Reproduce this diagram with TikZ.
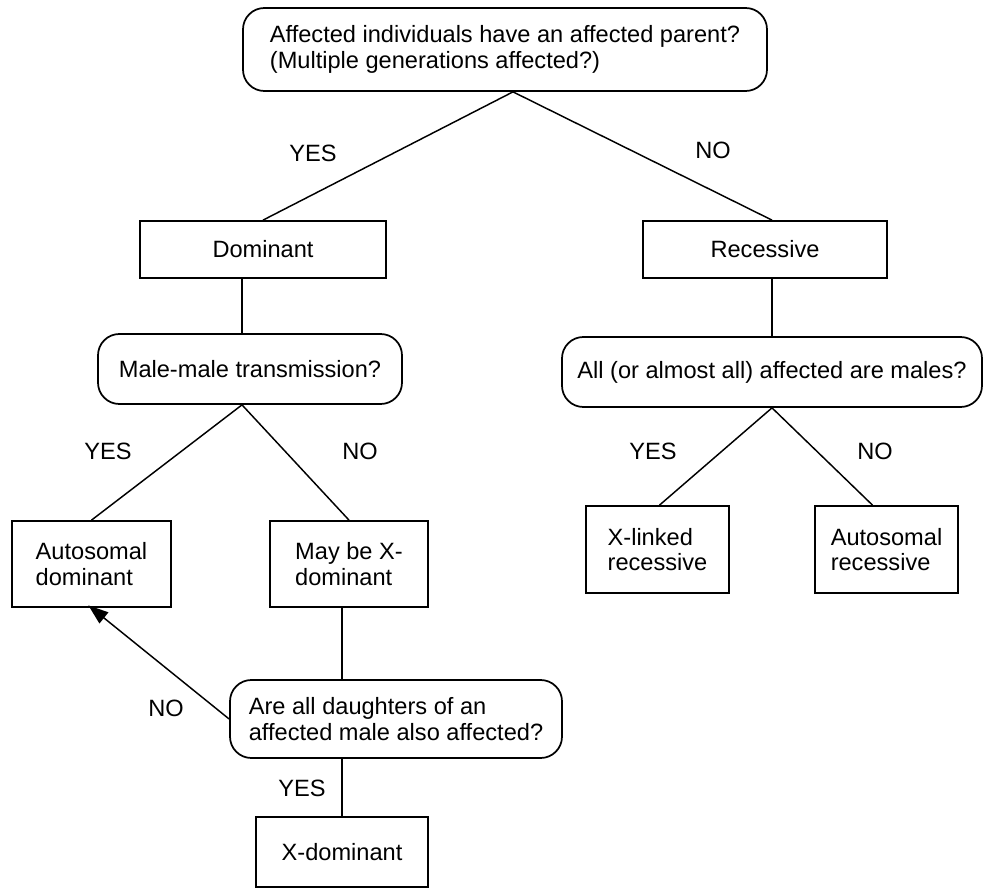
\documentclass[tikz,border=0pt]{standalone}
\usepackage{fontspec}
\setmainfont{Liberation Sans}
\usetikzlibrary{positioning, arrows.meta, calc}

\begin{document}
\begin{tikzpicture}[x=0.75pt, y=-0.75pt,
  every node/.style={font=\fontsize{17.7}{19}\selectfont},
  question/.style={draw, line width=1.3pt, rounded corners=16pt, align=left, inner sep=0pt},
  answer/.style={draw, line width=1.3pt, align=left, inner sep=0pt},
  link/.style={line width=1.1pt}]
  \useasboundingbox (0,0) rectangle (985,888);

  % Top question
  \node[question, minimum width=393pt, minimum height=62.25pt] (parent) at (505,49.5)
    {Affected individuals have an affected parent?\\(Multiple generations affected?)};
  \coordinate (parentapex) at ($(parent.south)+(8,0)$);

  % Dominant / Recessive
  \node[answer, minimum width=184.5pt, minimum height=42.75pt] (dominant) at (263,249.5) {Dominant};
  \node[answer, minimum width=183pt, minimum height=42.75pt] (recessive) at (765,249.5) {Recessive};

  % Second questions
  \node[question, minimum width=228pt, minimum height=52.5pt] (malemale) at (250,369) {Male-male transmission?};
  \node[question, minimum width=315pt, minimum height=52.5pt] (allmales) at (772,372) {All (or almost all) affected are males?};
  \coordinate (malemaleapex) at ($(malemale.south)+(-8,0)$);

  % Dominant outcomes
  \node[answer, minimum width=119.25pt, minimum height=64.5pt] (autodom) at (91.5,564) {Autosomal\\dominant};
  \node[answer, minimum width=118.5pt, minimum height=64.5pt] (maybex) at (349,564) {May be X-\\dominant};
  \node[question, minimum width=249pt, minimum height=58.5pt] (daughters) at (396,719)
    {Are all daughters of an\\affected male also affected?};
  \node[answer, minimum width=129pt, minimum height=52.5pt] (xdom) at (342,852) {X-dominant};

  % Recessive outcomes
  \node[answer, minimum width=107.25pt, minimum height=65.25pt] (xlinked) at (657.5,549.5) {X-linked\\recessive};
  \node[answer, minimum width=107.25pt, minimum height=65.25pt] (autorec) at (886.5,549.5) {Autosomal\\recessive};

  % Connectors
  \draw[link] (parentapex) -- (dominant.north);
  \draw[link] (parentapex) -- (recessive.north -| allmales.north);
  \draw[link] (dominant.south -| malemaleapex) -- (malemale.north -| malemaleapex);
  \draw[link] (recessive.south -| allmales.north) -- (allmales.north);
  \draw[link] (malemaleapex) -- (autodom.north);
  \draw[link] (malemaleapex) -- (maybex.north);
  \draw[link] (allmales.south) -- ($(xlinked.north)+(2,0)$);
  \draw[link] (allmales.south) -- ($(autorec.north)+(-14,0)$);
  \draw[link] (maybex.south -| xdom.north) -- (daughters.north -| xdom.north);
  \draw[link] (daughters.south -| xdom.north) -- (xdom.north);
  \draw[link, -{Triangle[length=15pt, width=10.5pt]}, shorten >=-3pt] (daughters.west) -- (autodom.south);

  % Labels
  \node (yesa) at (313,153) {YES};
  \node (noa) at (713,150) {NO};
  \node (yesb) at (108,451) {YES};
  \node (nob) at (360,451) {NO};
  \node (yesc) at (653,451) {YES};
  \node (noc) at (875,451) {NO};
  \node (nod) at (166,708) {NO};
  \node (yesd) at (302,788) {YES};
\end{tikzpicture}
\end{document}
